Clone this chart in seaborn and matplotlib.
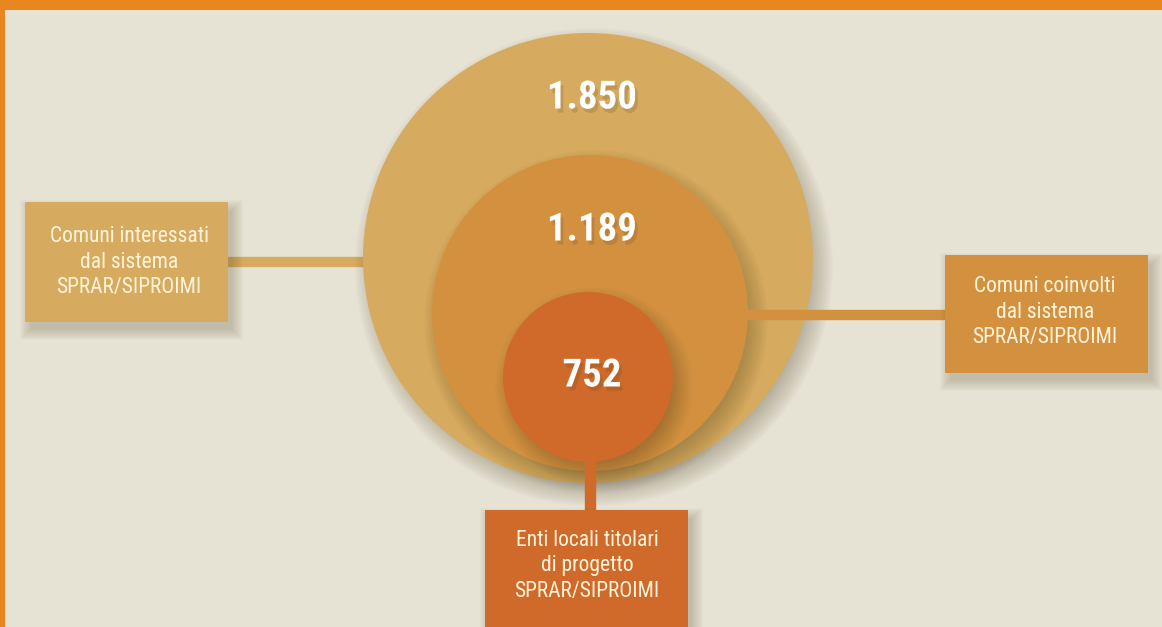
import matplotlib
matplotlib.use("Agg")
import matplotlib.pyplot as plt
import matplotlib.patches as mpatches
import matplotlib.patheffects as pe
import seaborn as sns

# data
values = [1850, 1189, 752]
value_labels = ["1.850", "1.189", "752"]
box_labels = [
    "Comuni interessati\ndal sistema\nSPRAR/SIPROIMI",
    "Comuni coinvolti\ndal sistema\nSPRAR/SIPROIMI",
    "Enti locali titolari\ndi progetto\nSPRAR/SIPROIMI",
]

# layout (pixels)
circle_xy = [(588, 258), (590, 313), (588, 377)]
circle_r = [225, 158, 85]
number_xy = [(592, 98), (592, 230), (592, 376)]
box_xywh = [(25, 202, 203, 120), (945, 255, 203, 118), (485, 510, 203, 125)]
text_xy = [(129, 262), (1045, 312), (587, 566)]
colors = ["#d6ab5f", "#d39140", "#cf6a2a"]
bg = "#e6e3d4"
border = "#e8861f"

sns.set_theme(style="white")
plt.rcParams["font.family"] = ["Roboto Condensed", "DejaVu Sans"]

fig = plt.figure(figsize=(11.62, 6.27), dpi=100, facecolor=bg)
ax = fig.add_axes([0, 0, 1, 1])
ax.set_xlim(0, 1162)
ax.set_ylim(627, 0)
ax.set_facecolor(bg)
ax.axis("off")

# connectors
(bx, by, bw, bh) = box_xywh[0]
ax.add_patch(mpatches.Rectangle((bx + bw, 257), circle_xy[0][0] - circle_r[0] - (bx + bw) + 5, 9,
                                color=colors[0], zorder=1))
(bx, by, bw, bh) = box_xywh[1]
ax.add_patch(mpatches.Rectangle((740, 310), bx - 740, 9, color=colors[1], zorder=5))
(bx, by, bw, bh) = box_xywh[2]
ax.add_patch(mpatches.Rectangle((585, 455), 10, by - 455, color=colors[2], zorder=8))

# circles with soft shadows
for i, ((cx, cy), r, c) in enumerate(zip(circle_xy, circle_r, colors)):
    for k in range(16):
        ax.add_patch(mpatches.Circle((cx + 6, cy + 9), r + 14 - 1.5 * k, color="#4a3a20",
                                     alpha=0.018, lw=0, zorder=2 + 2 * i))
    ax.add_patch(mpatches.Circle((cx, cy), r, color=c, lw=0, zorder=3 + 2 * i))

# numbers
for (x, y), lab in zip(number_xy, value_labels):
    ax.text(x, y, lab, ha="center", va="center", fontsize=28, fontweight="bold",
            color="white", zorder=20,
            path_effects=[pe.withSimplePatchShadow(offset=(2, -3), shadow_rgbFace="#5a4020", alpha=0.18)])

# boxes
for (bx, by, bw, bh), (tx, ty), lab, c in zip(box_xywh, text_xy, box_labels, colors):
    for k in range(12):
        ax.add_patch(mpatches.Rectangle((bx + 5 - 10 + k, by + 8 - 10 + k), bw + 20 - 2 * k, bh + 20 - 2 * k,
                                        color="#4a3a20", alpha=0.02, lw=0, zorder=9))
    ax.add_patch(mpatches.Rectangle((bx, by), bw, bh, color=c, lw=0, zorder=10))
    ax.text(tx, ty, lab, ha="center", va="center", fontsize=15.5,
            color="#fff4da", linespacing=1.3, zorder=11)

# orange frame
ax.add_patch(mpatches.Rectangle((0, 0), 1162, 10, color=border, lw=0, zorder=30))
ax.add_patch(mpatches.Rectangle((0, 0), 5, 627, color=border, lw=0, zorder=30))

fig.savefig("out.png", dpi=100, facecolor=bg)
